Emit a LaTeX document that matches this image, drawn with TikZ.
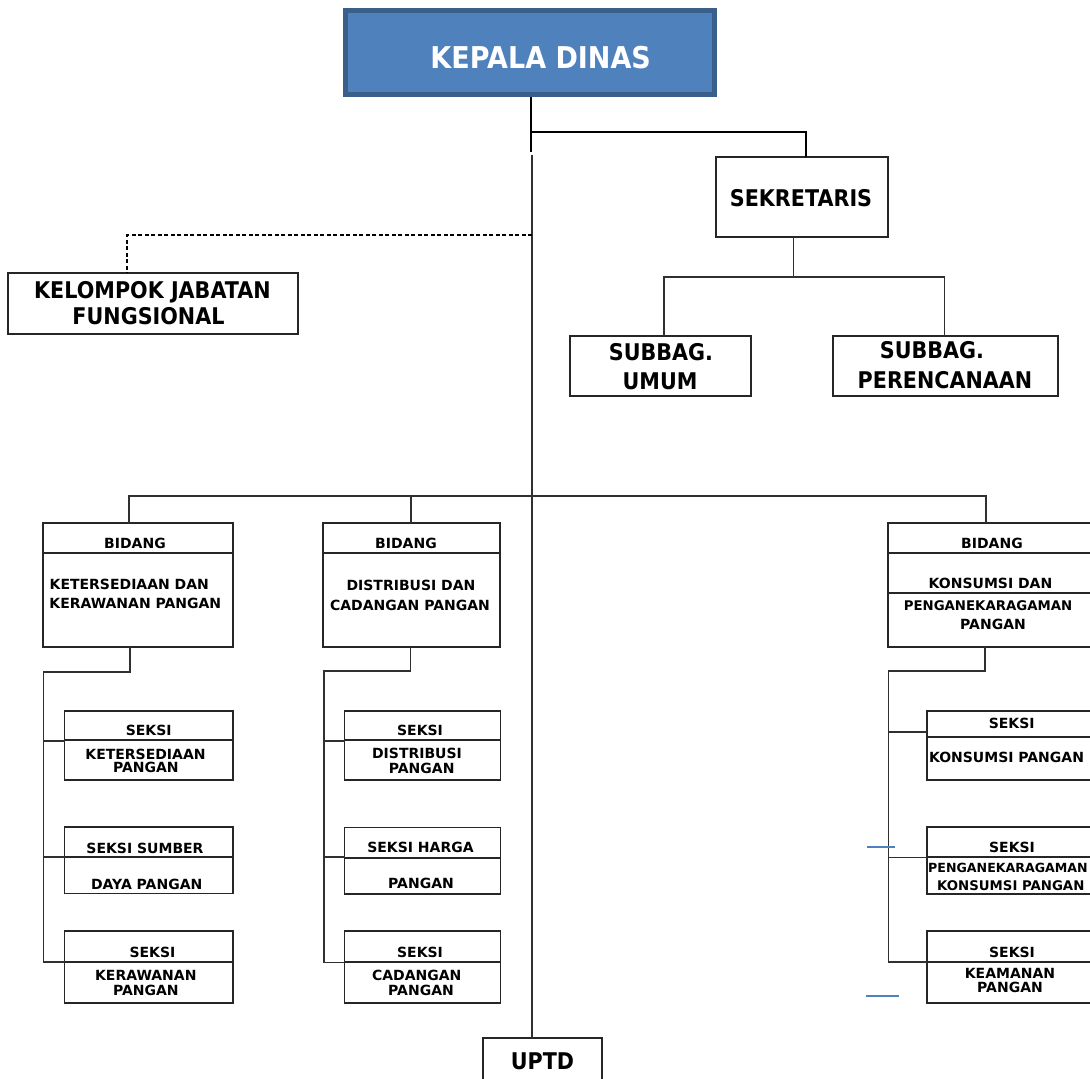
\documentclass[tikz,border=0pt]{standalone}
\usepackage{fontspec}
\setmainfont{DejaVu Sans}
\newfontfamily\bigfont{DejaVu Sans}[FakeStretch=0.9]
\definecolor{kdfill}{HTML}{4F81BD}
\definecolor{kdline}{HTML}{3A5F8B}
\definecolor{boxline}{HTML}{262626}
\definecolor{connline}{HTML}{303030}
\definecolor{blueline}{HTML}{4F81BD}
\tikzset{
  box/.style={draw=boxline, line width=1.8pt, rectangle, inner sep=0pt, outer sep=0pt},
  divider/.style={draw=boxline, line width=1.8pt},
  conn/.style={draw=connline, line width=1.6pt},
  topconn/.style={draw=black, line width=2pt},
  sm/.style={inner sep=0pt, font={\bfseries\fontsize{14}{14}\selectfont}, text height=10.2pt, text depth=0pt},
  smm/.style={inner sep=0pt, font={\bfseries\fontsize{13.3}{13.3}\selectfont}, text height=9.7pt, text depth=0pt},
  bg/.style={inner sep=0pt, font={\bigfont\bfseries\fontsize{23}{23}\selectfont}, text height=16.8pt, text depth=0pt},
}
\newcommand\obox[5]{\node[box, minimum width={(#4)-(#2)}, minimum height={(#5)-(#3)}] (#1) at ({((#2)+(#4))/2},{((#3)+(#5))/2}) {};}
\begin{document}
\begin{tikzpicture}[x=1pt,y=-1pt]
\useasboundingbox (0,0) rectangle (1090,1079);
% ---------- boxes ----------
\node[draw=kdline, fill=kdfill, line width=5pt, inner sep=0pt, minimum width=369.3, minimum height=84] (kd) at (529.85,52.8) {};
\obox{sek}{716}{157.3}{888}{237.3}
\obox{su}{570}{336}{751}{396}
\obox{sp}{832.7}{336}{1058.3}{396}
\obox{kjf}{8.3}{272.7}{297.7}{334}
\obox{uptd}{483.3}{1037.7}{601.7}{1090}
\obox{b1}{43}{523}{233}{647}
\obox{b2}{323}{523}{500}{647}
\obox{b3}{888}{523}{1096}{647}
\obox{s11}{64.5}{711}{233}{780}
\obox{s12}{64.5}{827}{233}{893.5}
\obox{s13}{64.5}{930.7}{233}{1002.7}
\obox{s21}{344.5}{711}{500.5}{780}
\obox{s22}{344.5}{827.5}{500.5}{894}
\obox{s23}{344.5}{930.7}{500.5}{1003}
\obox{s31}{926.7}{711}{1098}{780}
\obox{s32}{926.7}{826.7}{1098}{894.3}
\obox{s33}{926.7}{930.7}{1098}{1002.7}
% dividers
\draw[divider] (43,553) -- (233,553);
\draw[divider] (323,553) -- (500,553);
\draw[divider] (888,553) -- (1096,553);
\draw[divider] (888,593) -- (1096,593);
\draw[divider] (64.5,740) -- (233,740);
\draw[divider] (64.5,857) -- (233,857);
\draw[divider] (64.5,961.7) -- (233,961.7);
\draw[divider] (344.5,740) -- (500.5,740);
\draw[divider] (344.5,857.7) -- (500.5,857.7);
\draw[divider] (344.5,962.3) -- (500.5,962.3);
\draw[divider] (926.7,737) -- (1098,737);
\draw[divider] (926.7,857.3) -- (1098,857.3);
\draw[divider] (926.7,961.7) -- (1098,961.7);
% ---------- texts ----------
\node[inner sep=0pt, font={\bigfont\bfseries\fontsize{30}{30}\selectfont}, text height=21.9pt, text depth=0pt, text=white] (tkd) at (540.7,57.2) {KEPALA DINAS};
\node[bg] (tsek) at (801,198.5) {SEKRETARIS};
\node[bg] (tsu1) at (661,352) {SUBBAG.};
\node[bg] (tsu2) at (660,381.5) {UMUM};
\node[bg] (tsp1) at (932,350.5) {SUBBAG.};
\node[bg] (tsp2) at (945,380) {PERENCANAAN};
\node[bg] (tkj1) at (152.5,290) {KELOMPOK JABATAN};
\node[bg] (tkj2) at (148.5,316.5) {FUNGSIONAL};
\node[bg] (tup) at (542.5,1061) {UPTD};
\node[sm] (tb11) at (135,543) {BIDANG};
\node[sm] (tb12) at (129.3,584) {KETERSEDIAAN DAN};
\node[sm] (tb13) at (135.3,603.5) {KERAWANAN PANGAN};
\node[sm] (tb21) at (406,543) {BIDANG};
\node[sm] (tb22) at (411,585) {DISTRIBUSI DAN};
\node[sm] (tb23) at (410,605) {CADANGAN PANGAN};
\node[sm] (tb31) at (992,543) {BIDANG};
\node[sm] (tb32) at (990.5,583.5) {KONSUMSI DAN};
\node[smm] (tb33) at (988,606) {PENGANEKARAGAMAN};
\node[sm] (tb34) at (993,624) {PANGAN};
\node[sm] (ts111) at (148.7,730.5) {SEKSI};
\node[sm] (ts112) at (145.5,754) {KETERSEDIAAN};
\node[sm] (ts113) at (145.8,767.5) {PANGAN};
\node[sm] (ts121) at (145,848) {SEKSI SUMBER};
\node[sm] (ts122) at (146.7,884.7) {DAYA PANGAN};
\node[sm] (ts131) at (152.5,952.8) {SEKSI};
\node[sm] (ts132) at (145.8,975.8) {KERAWANAN};
\node[sm] (ts133) at (145.8,990.8) {PANGAN};
\node[sm] (ts211) at (420,730.5) {SEKSI};
\node[sm] (ts212) at (417,753.8) {DISTRIBUSI};
\node[sm] (ts213) at (421.7,768) {PANGAN};
\node[sm] (ts221) at (420.5,847.5) {SEKSI HARGA};
\node[sm] (ts222) at (421,883.3) {PANGAN};
\node[sm] (ts231) at (420,952) {SEKSI};
\node[sm] (ts232) at (416.7,975.8) {CADANGAN};
\node[sm] (ts233) at (421,990.8) {PANGAN};
\node[sm] (ts311) at (1011.7,723) {SEKSI};
\node[sm] (ts312) at (1006.5,757.5) {KONSUMSI PANGAN};
\node[sm] (ts321) at (1012,847.5) {SEKSI};
\node[inner sep=0pt, font={\bfseries\fontsize{12.6}{12.6}\selectfont}, text height=9.2pt, text depth=0pt] (ts322) at (1008,868) {PENGANEKARAGAMAN};
\node[smm] (ts323) at (1010.8,885.3) {KONSUMSI PANGAN};
\node[sm] (ts331) at (1012,952) {SEKSI};
\node[sm] (ts332) at (1010,973.3) {KEAMANAN};
\node[sm] (ts333) at (1010,987.5) {PANGAN};
% ---------- connectors ----------
\coordinate (kstub) at (531,152);
\coordinate (jh) at (531,131.7);
\draw[topconn] (kd.south -| kstub) -- (kstub);
\draw[topconn] (jh) -| ([xshift=4pt]sek.north);
\coordinate (ttop) at (532,154.5);
\draw[conn] (ttop) -- (ttop |- uptd.north);
\coordinate (dk) at (127,235);
\draw[topconn, line width=1.5pt, dash pattern=on 4pt off 2.5pt] (ttop |- dk) -- (dk) -- (dk |- kjf.north);
\coordinate (sj) at (793.3,276.7);
\draw[conn] (sek.south -| sj) -- (sj);
\draw[conn] ([xshift=3.5pt]su.north) |- (sj) -| ([xshift=-1.2pt]sp.north);
\coordinate (bus) at (532,496);
\draw[conn] ([xshift=-9pt]b1.north) |- (bus) -| ([xshift=-6pt]b3.north);
\draw[conn] ([xshift=-0.8pt]b2.north) -- ([xshift=-0.8pt]b2.north |- bus);
% left bracket
\coordinate (lk1) at (43.3,671.7);
\draw[conn] ([xshift=-8pt]b1.south) |- (lk1) |- ([yshift=5pt]s13.west);
\draw[conn] ([yshift=4.5pt]s11.west) -- ([yshift=4.5pt]s11.west -| lk1);
\draw[conn] ([yshift=3.2pt]s12.west) -- ([yshift=3.2pt]s12.west -| lk1);
% middle bracket
\coordinate (lk2) at (324,671);
\draw[conn] ([xshift=-1pt]b2.south) |- (lk2) |- ([yshift=4.5pt]s23.west);
\draw[conn] ([yshift=4.5pt]s21.west) -- ([yshift=4.5pt]s21.west -| lk2);
\draw[conn] ([yshift=3.5pt]s22.west) -- ([yshift=3.5pt]s22.west -| lk2);
% right bracket
\coordinate (lk3) at (888.3,671);
\draw[conn] ([xshift=-7pt]b3.south) |- (lk3) |- ([yshift=5pt]s33.west);
\draw[conn] ([yshift=13.5pt]s31.west) -- ([yshift=13.5pt]s31.west -| lk3);
\draw[conn] ([yshift=3.2pt]s32.west) -- ([yshift=3.2pt]s32.west -| lk3);
% stray blue strokes
\draw[blueline, line width=1.6pt] (867,846.7) -- (895,846.7);
\draw[blueline, line width=1.6pt] (866,995.7) -- (899,995.7);
\end{tikzpicture}
\end{document}
